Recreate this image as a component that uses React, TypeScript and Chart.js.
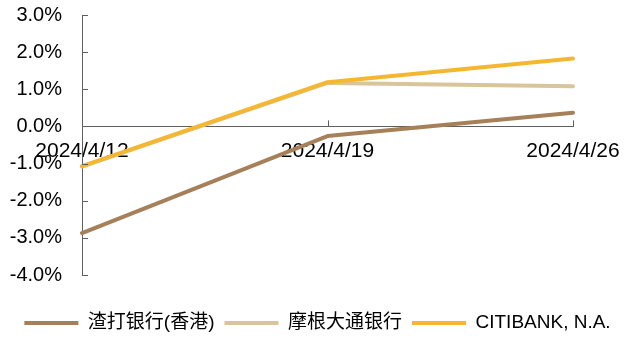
import React, { useEffect, useRef } from "react";
import { Chart, registerables } from "chart.js";

Chart.register(...registerables);

const categories = ["2024/4/12", "2024/4/19", "2024/4/26"];
const seriesNames = ["渣打银行(香港)", "摩根大通银行", "CITIBANK, N.A."];
const scbValues = [-2.87, -0.26, 0.37];
const jpmValues = [-1.08, 1.17, 1.08];
const citiValues = [-1.07, 1.19, 1.83];
const seriesColors = ["#A68058", "#D8C59B", "#F5B731"];
const yTickValues = [3, 2, 1, 0, -1, -2, -3, -4];

const FONT = "'Liberation Sans', Arial, 'Noto Sans CJK SC', sans-serif";
const AXIS_COLOR = "#5f5f5f";

const inwardTicks = {
  id: "inwardTicks",
  afterDatasetsDraw(chart: any) {
    const ctx = chart.ctx;
    const xs = chart.scales.x;
    const ys = chart.scales.y;
    ctx.save();
    ctx.strokeStyle = AXIS_COLOR;
    ctx.lineWidth = 1;
    const axisY = ys.getPixelForValue(0);
    for (let i = 0; i < xs.ticks.length; i++) {
      const px = Math.round(xs.getPixelForTick(i)) + 0.5;
      ctx.beginPath();
      ctx.moveTo(px, axisY);
      ctx.lineTo(px, axisY - 6);
      ctx.stroke();
    }
    const axisX = chart.chartArea.left;
    for (let i = 0; i < ys.ticks.length; i++) {
      const py = Math.round(ys.getPixelForTick(i)) + 0.5;
      ctx.beginPath();
      ctx.moveTo(axisX, py);
      ctx.lineTo(axisX + 6, py);
      ctx.stroke();
    }
    ctx.restore();
  },
};

export default function App() {
  const ref = useRef<HTMLCanvasElement | null>(null);

  useEffect(() => {
    if (!ref.current) return;
    const values = [scbValues, jpmValues, citiValues];
    const orders = [2, 1, 0];
    const chart = new Chart(ref.current, {
      type: "line",
      data: {
        labels: categories,
        datasets: seriesNames.map((name, i) => ({
          label: name,
          data: values[i],
          borderColor: seriesColors[i],
          backgroundColor: seriesColors[i],
          borderWidth: 4,
          pointRadius: 0,
          tension: 0,
          borderCapStyle: "round",
          borderJoinStyle: "round",
          order: orders[i],
          fill: false,
        })),
      },
      options: {
        responsive: false,
        animation: false,
        layout: { padding: { left: 0, right: 0, top: 15, bottom: -4.5 } },
        plugins: {
          tooltip: { enabled: false },
          legend: {
            position: "bottom",
            title: { display: true, text: "", font: { size: 1 }, padding: { top: 27.3, bottom: 0 } },
            labels: {
              usePointStyle: true,
              pointStyle: "line",
              pointStyleWidth: 54,
              boxHeight: 19,
              padding: 10,
              color: "#000",
              font: { family: FONT, size: 19 },
              sort: (a: any, b: any) => a.datasetIndex - b.datasetIndex,
            },
          },
        },
        scales: {
          x: {
            type: "category",
            position: { y: 0 } as any,
            offset: false,
            grid: { display: true, drawOnChartArea: false, drawTicks: false },
            border: { display: true, color: AXIS_COLOR, width: 1 },
            ticks: {
              color: "#000",
              padding: 12,
              maxRotation: 0,
              autoSkip: false,
              font: { family: FONT, size: 21 },
            },
          },
          y: {
            min: -4,
            max: 3,
            afterFit: (s: any) => {
              s.width = 82;
            },
            afterBuildTicks: (s: any) => {
              s.ticks = yTickValues.map((v) => ({ value: v }));
            },
            grid: {
              display: true,
              drawOnChartArea: false,
              drawTicks: true,
              tickLength: 20,
              tickColor: "rgba(0,0,0,0)",
            },
            border: { display: true, color: AXIS_COLOR, width: 1 },
            ticks: {
              color: "#000",
              padding: 0,
              font: { family: FONT, size: 20 },
              callback: (v: any) => Number(v).toFixed(1) + "%",
            },
          },
          ySpacer: {
            position: "right",
            min: -4,
            max: 3,
            display: true,
            afterFit: (s: any) => {
              s.width = 62;
            },
            grid: { display: false, drawTicks: false },
            border: { display: false },
            ticks: { display: false, padding: 0 },
          },
        },
      },
      plugins: [inwardTicks],
    });
    return () => chart.destroy();
  }, []);

  return (
    <div style={{ position: "absolute", left: 0, top: 0, width: 635, height: 338, background: "#fff" }}>
      <canvas ref={ref} width={635} height={338} />
    </div>
  );
}
